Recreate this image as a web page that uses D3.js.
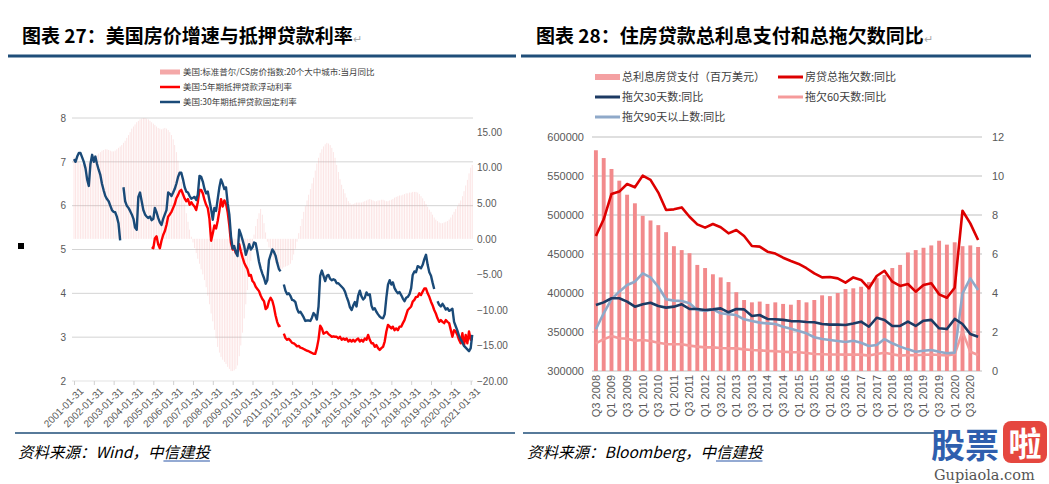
<!DOCTYPE html>
<html><head><meta charset="utf-8">
<script src="https://cdn.jsdelivr.net/npm/d3@7/dist/d3.min.js"></script>
<style>body{margin:0;background:#fff}svg{display:block}</style>
</head><body>
<svg id="c" width="1049" height="484"></svg>
<script>
// ===== Chart 27 data (monthly, month-end, starting 2001-01-31) =====
const leftXTicks = ["2001-01-31","2002-01-31","2003-01-31","2004-01-31","2005-01-31","2006-01-31","2007-01-31","2008-01-31","2009-01-31","2010-01-31","2011-01-31","2012-01-31","2013-01-31","2014-01-31","2015-01-31","2016-01-31","2017-01-31","2018-01-31","2019-01-31","2020-01-31","2021-01-31"];
const leftTicksL = [2,3,4,5,6,7,8];
const leftTicksR = [-20,-15,-10,-5,0,5,10,15];
// 美国:标准普尔/CS房价指数:20个大中城市:当月同比 (%), from 2001-01
const csYoY = [
 11.5,11.2,11.0,10.8,10.6,10.5,10.4,10.5,10.6,10.8,11.0,11.2,
 11.4,11.6,11.8,12.0,12.2,12.4,12.5,12.6,12.6,12.5,12.4,12.3,
 12.3,12.4,12.6,12.8,13.0,13.2,13.5,13.8,14.2,14.6,15.0,15.5,
 15.8,16.1,16.4,16.6,16.8,16.9,17.0,17.0,16.9,16.8,16.6,16.4,
 16.2,16.0,15.8,15.6,15.5,15.4,15.5,15.6,15.5,15.3,15.0,14.6,
 14.0,13.2,12.2,11.0,9.6,8.0,6.5,5.0,3.6,2.4,1.3,0.3,
 -0.5,-1.3,-2.0,-2.8,-3.5,-4.3,-5.0,-5.8,-6.8,-8.0,-9.2,-10.5,
 -11.6,-12.8,-14.0,-15.2,-16.0,-16.6,-17.0,-17.3,-17.6,-18.0,-18.3,-18.6,
 -18.6,-18.5,-18.3,-17.8,-16.5,-15.0,-13.2,-11.2,-9.2,-7.2,-5.2,-3.1,
 -0.8,0.6,1.8,2.8,3.6,4.2,3.4,2.2,0.9,-0.4,-1.2,-1.9,
 -2.5,-3.0,-3.4,-3.8,-4.1,-4.3,-4.2,-4.0,-3.9,-3.8,-3.7,-3.5,
 -3.0,-2.2,-1.4,-0.4,0.8,1.8,2.8,3.8,4.6,5.4,6.2,7.0,
 7.8,8.6,9.6,10.6,11.4,12.1,12.6,13.0,13.3,13.5,13.4,13.2,
 12.8,12.2,11.4,10.4,9.4,8.4,7.6,7.0,6.4,5.8,5.3,5.0,
 4.8,4.9,5.0,5.1,5.1,5.1,5.1,5.2,5.3,5.4,5.5,5.6,
 5.5,5.4,5.3,5.3,5.4,5.4,5.5,5.5,5.4,5.3,5.3,5.4,
 5.5,5.6,5.8,5.9,6.0,6.1,6.1,6.2,6.3,6.4,6.4,6.5,
 6.5,6.6,6.6,6.6,6.5,6.3,6.0,5.7,5.3,4.9,4.5,4.1,
 3.8,3.4,3.0,2.7,2.5,2.3,2.2,2.2,2.3,2.4,2.5,2.7,
 3.0,3.4,3.8,4.2,4.6,5.0,5.4,6.0,6.7,7.5,8.3,9.2,
 10.0,10.4];
// 美国:30年期抵押贷款固定利率 (%), from 2001-01
const fixed30 = [
 7.06,7.0,7.12,7.2,7.2,7.1,7.0,6.85,6.6,6.45,6.95,7.16,
 7.0,7.12,6.95,6.82,6.7,6.5,6.35,6.22,6.15,6.1,6.0,5.9,
 5.86,5.85,5.75,5.6,5.21,null,6.42,6.1,6.0,5.95,5.88,5.8,
 5.7,5.5,5.45,6.2,6.3,6.1,5.9,5.8,5.75,5.72,5.75,5.67,
 5.7,5.95,5.85,5.72,5.62,5.56,5.7,5.8,5.9,6.3,6.27,6.22,
 6.3,6.38,6.5,6.65,6.75,6.75,6.6,6.42,6.32,6.3,6.22,6.16,
 6.18,6.2,6.13,6.25,6.68,6.66,6.55,6.38,6.28,6.32,6.12,5.92,
 5.68,5.95,5.88,6.15,6.42,6.6,6.5,6.38,6.42,6.05,5.8,5.3,
 5.02,5.08,4.93,4.85,5.45,5.35,5.22,5.08,4.88,5.0,5.12,5.0,
 5.05,5.16,5.14,4.95,4.72,4.57,4.45,4.35,4.22,4.3,4.75,4.88,
 5.0,4.95,4.86,4.7,4.56,4.5,null,4.2,4.06,3.98,4.0,3.94,
 3.85,3.84,3.8,3.65,3.56,3.58,3.52,3.45,3.37,3.38,3.38,3.37,
 3.45,3.55,3.5,3.4,3.7,4.4,4.52,4.4,4.28,4.4,4.42,4.33,
 4.3,4.32,4.3,4.23,4.23,4.19,4.15,4.11,4.04,3.92,3.82,3.68,
 3.62,3.72,3.8,3.7,3.95,4.06,3.93,3.86,3.9,4.02,3.96,3.98,
 3.72,3.63,3.66,3.58,3.52,3.47,3.44,3.43,3.52,3.9,4.2,4.3,
 4.2,4.25,4.12,4.05,4.0,4.03,3.96,3.88,3.82,3.9,3.92,3.98,
 4.12,4.42,4.5,4.48,4.62,4.6,4.57,4.65,4.78,4.88,4.65,4.48,
 4.4,4.25,4.1,null,3.82,3.74,3.7,3.76,3.7,3.63,3.66,3.6,
 3.62,3.65,3.35,3.25,3.15,3.03,2.95,2.88,2.8,2.76,2.72,2.68,
 2.75,3.05];
// 美国:5年期抵押贷款浮动利率 (%), from 2004-12 (month index 47)
const arm5StartMonth = 47;
const arm5 = [
 5.05,
 5.03,5.25,5.3,5.12,5.03,5.2,5.33,5.42,5.56,5.75,5.8,5.86,
 5.95,6.03,6.17,6.24,6.33,6.36,6.26,6.16,6.1,6.15,6.02,6.08,
 6.02,5.98,5.9,6.08,6.36,6.36,6.28,6.13,6.02,5.94,5.7,5.2,
 5.37,5.55,5.48,5.65,5.88,6.15,5.98,6.12,6.05,5.85,5.55,5.15,
 5.0,5.03,4.92,4.95,5.12,4.96,4.82,4.7,4.62,4.55,4.4,4.42,
 4.28,4.24,4.15,4.1,4.05,3.95,3.87,3.82,3.64,3.68,3.82,3.9,
 3.83,3.7,3.5,3.35,3.25,3.27,null,3.08,2.98,2.94,2.96,2.92,
 2.87,2.86,2.83,2.79,2.8,2.76,2.75,2.73,2.71,2.69,2.68,2.66,
 2.64,2.62,2.62,2.75,2.95,3.26,3.2,3.08,3.1,3.12,3.07,3.04,
 3.01,3.02,3.01,3.01,2.97,3.01,2.94,2.97,2.94,2.97,2.9,2.94,
 2.9,2.94,2.9,2.94,2.97,2.9,2.94,2.9,2.97,2.94,3.05,2.94,
 2.86,2.86,2.78,2.82,2.75,2.71,2.75,2.78,2.9,3.13,3.28,3.24,
 3.2,3.24,3.16,3.2,3.16,3.24,3.24,3.32,3.39,3.51,3.62,3.66,
 3.7,3.81,3.85,3.92,3.92,4.0,3.96,4.04,4.11,4.11,4.0,3.92,
 3.81,3.73,3.62,3.54,3.43,3.35,3.39,3.35,3.32,3.39,3.35,3.32,
 3.16,3.01,3.16,3.13,3.05,2.94,2.86,3.09,2.82,3.05,2.86,3.13,
 2.94,2.97];

// ===== Chart 28 data (quarterly) =====
const quarters = ["Q3 2008","Q4 2008","Q1 2009","Q2 2009","Q3 2009","Q4 2009","Q1 2010","Q2 2010","Q3 2010","Q4 2010",
 "Q1 2011","Q2 2011","Q3 2011","Q4 2011","Q1 2012","Q2 2012","Q3 2012","Q4 2012","Q1 2013","Q2 2013",
 "Q3 2013","Q4 2013","Q1 2014","Q2 2014","Q3 2014","Q4 2014","Q1 2015","Q2 2015","Q3 2015","Q4 2015",
 "Q1 2016","Q2 2016","Q3 2016","Q4 2016","Q1 2017","Q2 2017","Q3 2017","Q4 2017","Q1 2018","Q2 2018",
 "Q3 2018","Q4 2018","Q1 2019","Q2 2019","Q3 2019","Q4 2019","Q1 2020","Q2 2020","Q3 2020","Q4 2020"];
const interestPaid = [583000,573000,559000,544000,526000,515000,499000,493000,487000,478000,
 460000,455000,451000,436000,432000,424000,420000,414000,401000,391000,
 388000,389000,386000,388000,386000,385000,391000,388000,391000,397000,
 396000,400000,405000,406000,408000,414000,419000,423000,432000,436000,
 452000,455000,458000,461000,467000,462000,465000,460000,461000,459000];
const delinqTotal = [6.92,7.78,9.08,9.2,9.59,9.42,10.02,9.8,9.15,8.26,
 8.29,8.39,7.91,7.52,7.35,7.54,7.37,7.06,7.23,6.92,
 6.41,6.38,6.12,6.02,5.81,5.64,5.49,5.27,5.01,4.8,
 4.82,4.75,4.53,4.8,4.67,4.24,4.87,5.14,4.58,4.36,
 4.46,4.07,4.41,4.5,3.93,3.76,4.27,8.22,7.57,6.72];
const delinq30 = [3.38,3.52,3.73,3.73,3.56,3.3,3.42,3.5,3.33,3.25,
 3.3,3.42,3.18,3.18,3.13,3.16,3.21,3.01,3.18,3.16,
 2.82,2.87,2.67,2.65,2.62,2.56,2.55,2.51,2.5,2.41,
 2.38,2.38,2.36,2.44,2.53,2.27,2.73,2.62,2.31,2.31,
 2.53,2.31,2.58,2.62,2.19,2.15,2.67,2.41,1.9,1.76];
const delinq60 = [1.42,1.63,1.79,1.68,1.66,1.55,1.59,1.54,1.45,1.38,
 1.37,1.37,1.3,1.25,1.21,1.21,1.18,1.16,1.16,1.11,
 1.08,1.06,1.03,1.01,0.99,0.97,0.96,0.92,0.87,0.86,
 0.85,0.85,0.84,0.85,0.84,0.79,0.87,0.94,0.86,0.79,
 0.82,0.81,0.83,0.85,0.82,0.8,0.86,2.02,0.99,0.82];
const delinq90 = [2.14,2.96,3.68,4.07,4.41,4.58,5.01,4.8,4.32,3.68,
 3.61,3.59,3.47,3.13,3.08,3.16,2.96,2.91,2.87,2.65,
 2.56,2.48,2.44,2.41,2.27,2.17,2.05,1.93,1.73,1.64,
 1.59,1.54,1.49,1.55,1.45,1.28,1.33,1.64,1.42,1.25,
 1.11,0.99,1.04,1.08,0.99,0.91,0.94,3.98,4.75,4.15];
const rightTicksL = [300000,350000,400000,450000,500000,550000,600000];
const rightTicksR = [0,2,4,6,8,10,12];

// ===== drawing =====
const CJK = "'Noto Sans CJK SC','Noto Sans',sans-serif";
const NUM = "'Liberation Sans',Arial,sans-serif";
const svg = d3.select("#c");
const parse = d3.timeParse("%Y-%m-%d");
const mDate = m => new Date(2001, m + 1, 0);

// headers
function header(x, x1, x2, label) {
  const t = svg.append("text").attr("x", x).attr("y", 43)
    .attr("font-family", CJK).attr("font-weight", "bold").attr("font-size", 19).attr("fill", "#000");
  t.append("tspan").text(label);
  t.append("tspan").attr("font-size", 11).attr("font-weight", "normal").attr("fill", "#aaa").text("↵");
  svg.append("line").attr("x1", x1).attr("x2", x2).attr("y1", 56).attr("y2", 56)
    .attr("stroke", "#1f4e79").attr("stroke-width", 3);
}
header(22, 8, 516, "图表 27：美国房价增速与抵押贷款利率");
header(536, 521, 1031, "图表 28：住房贷款总利息支付和总拖欠数同比");

// ---------- Left chart ----------
const xL = d3.scaleTime().domain([parse(leftXTicks[0]), parse(leftXTicks[leftXTicks.length - 1])]).range([74, 470.7]);
const yL = d3.scaleLinear().domain([2, 8]).range([381, 118]);
const yR = d3.scaleLinear().domain([-20, 17]).range([381, 118]);
const gL = svg.append("g");

gL.selectAll("line.grid").data(leftTicksL).join("line")
  .attr("x1", 72).attr("x2", 473).attr("y1", d => yL(d)).attr("y2", d => yL(d))
  .attr("stroke", d => d === 2 ? "#e3e3e3" : "#d4d4d4").attr("stroke-width", 1);

gL.selectAll("rect.cs").data(csYoY).join("rect")
  .attr("x", (d, i) => xL(mDate(i)) - 0.4).attr("width", 0.8)
  .attr("y", d => Math.min(yR(d), yR(0))).attr("height", d => Math.abs(yR(d) - yR(0)))
  .attr("fill", "#f3a0a0").attr("opacity", 0.32);

const lineL = off => d3.line().defined(d => d != null)
  .x((d, i) => xL(mDate(i + off))).y(d => yL(d));
gL.append("path").attr("d", lineL(arm5StartMonth)(arm5)).attr("fill", "none")
  .attr("stroke", "#ff0000").attr("stroke-width", 2.4).attr("stroke-linejoin", "round");
gL.append("path").attr("d", lineL(0)(fixed30)).attr("fill", "none")
  .attr("stroke", "#1a4a78").attr("stroke-width", 2.4).attr("stroke-linejoin", "round");

const axL = gL.append("g").attr("transform", "translate(72,0)")
  .call(d3.axisLeft(yL).tickValues(leftTicksL).tickSize(0).tickPadding(6).tickFormat(d3.format("d")));
const axR = gL.append("g").attr("transform", "translate(473,0)")
  .call(d3.axisRight(yR).tickValues(leftTicksR).tickSize(0).tickPadding(4).tickFormat(d3.format(".2f")));
const axB = gL.append("g").attr("transform", "translate(0,381)")
  .call(d3.axisBottom(xL).tickValues(leftXTicks.map(parse)).tickSize(4).tickFormat(d3.timeFormat("%Y-%m-%d")));
[axL, axR, axB].forEach(a => {
  a.select(".domain").remove();
  a.selectAll("text").attr("font-family", NUM).attr("font-size", 10).attr("fill", "#595959");
  a.selectAll(".tick line").attr("stroke", "#d0d0d0");
});
axB.selectAll("text").attr("text-anchor", "end").attr("dy", "0.35em")
  .attr("transform", "translate(3,4) rotate(-45)").attr("y", 6).attr("x", 0);

// left legend
const legL = svg.append("g").attr("font-family", CJK).attr("font-size", 8.5).attr("fill", "#404040");
legL.append("rect").attr("x", 160).attr("y", 69.5).attr("width", 20).attr("height", 5).attr("fill", "#f4a8a8");
legL.append("line").attr("x1", 160).attr("x2", 180).attr("y1", 87).attr("y2", 87).attr("stroke", "#ff0000").attr("stroke-width", 2.5);
legL.append("line").attr("x1", 160).attr("x2", 180).attr("y1", 102).attr("y2", 102).attr("stroke", "#1a4a78").attr("stroke-width", 2.5);
legL.append("text").attr("x", 183).attr("y", 75).text("美国:标准普尔/CS房价指数:20个大中城市:当月同比");
legL.append("text").attr("x", 183).attr("y", 90).text("美国:5年期抵押贷款浮动利率");
legL.append("text").attr("x", 183).attr("y", 105).text("美国:30年期抵押贷款固定利率");

svg.append("rect").attr("x", 18).attr("y", 243).attr("width", 6).attr("height", 6).attr("fill", "#000");

// ---------- Right chart ----------
const xB = d3.scaleBand().domain(quarters).range([592, 982]).paddingInner(0.5).paddingOuter(0.25);
const yB = d3.scaleLinear().domain([300000, 600000]).range([371, 137]);
const yT = d3.scaleLinear().domain([0, 12]).range([371, 137]);
const gR = svg.append("g");
gR.selectAll("line.grid").data(rightTicksL).join("line")
  .attr("x1", 592).attr("x2", 982).attr("y1", d => yB(d)).attr("y2", d => yB(d))
  .attr("stroke", "#bfbfbf").attr("stroke-width", 1);
gR.selectAll("rect.bar").data(interestPaid).join("rect")
  .attr("x", (d, i) => xB(quarters[i])).attr("width", xB.bandwidth())
  .attr("y", d => yB(d)).attr("height", d => yB(300000) - yB(d))
  .attr("fill", "#f28a8c");
const cx = (d, i) => xB(quarters[i]) + xB.bandwidth() / 2;
const lineR = d3.line().x(cx).y(d => yT(d));
[[delinq60, "#f59a9a"], [delinq90, "#8fa9c9"], [delinq30, "#1c3a63"], [delinqTotal, "#dd0000"]].forEach(([s, c]) => {
  gR.append("path").attr("d", lineR(s)).attr("fill", "none").attr("stroke", c)
    .attr("stroke-width", 2.6).attr("stroke-linejoin", "round");
});
const rL = gR.append("g").attr("transform", "translate(592,0)")
  .call(d3.axisLeft(yB).tickValues(rightTicksL).tickSize(0).tickPadding(8).tickFormat(d3.format("d")));
const rR = gR.append("g").attr("transform", "translate(982,0)")
  .call(d3.axisRight(yT).tickValues(rightTicksR).tickSize(0).tickPadding(10));
const rB = gR.append("g").attr("transform", "translate(0,371)")
  .call(d3.axisBottom(xB).tickValues(quarters.filter((q, i) => i % 2 === 0)).tickSize(0));
[rL, rR, rB].forEach(a => {
  a.select(".domain").remove();
  a.selectAll("text").attr("font-family", NUM).attr("font-size", 11).attr("fill", "#595959");
});
rB.selectAll("text").attr("text-anchor", "end").attr("transform", "rotate(-90)")
  .attr("x", -4).attr("y", 0).attr("dy", "0.35em");

// right legend
const legR = svg.append("g").attr("font-family", CJK).attr("font-size", 11).attr("fill", "#404040");
const legItems = [
  {x: 595, y: 77, t: "总利息房贷支付（百万美元）", c: "#f4a0a2", w: 6},
  {x: 778, y: 77, t: "房贷总拖欠数:同比", c: "#dd0000", w: 3},
  {x: 595, y: 97, t: "拖欠30天数:同比", c: "#1c3a63", w: 3},
  {x: 778, y: 97, t: "拖欠60天数:同比", c: "#f59a9a", w: 3},
  {x: 595, y: 117, t: "拖欠90天以上数:同比", c: "#8fa9c9", w: 3}];
legItems.forEach(d => {
  legR.append("line").attr("x1", d.x).attr("x2", d.x + 25).attr("y1", d.y).attr("y2", d.y)
    .attr("stroke", d.c).attr("stroke-width", d.w);
  legR.append("text").attr("x", d.x + 27).attr("y", d.y + 4).text(d.t);
});

// ---------- footers ----------
function footer(x, x1, x2, pre) {
  svg.append("line").attr("x1", x1).attr("x2", x2).attr("y1", 433).attr("y2", 433)
    .attr("stroke", "#1f4e79").attr("stroke-width", 1.5);
  const t1 = svg.append("text").attr("x", x).attr("y", 458).attr("font-family", CJK)
    .attr("font-size", 15.5).attr("font-style", "italic").attr("fill", "#000").text(pre);
  const w1 = t1.node().getComputedTextLength();
  const t2 = svg.append("text").attr("x", x + w1).attr("y", 458).attr("font-family", CJK)
    .attr("font-size", 15.5).attr("font-style", "italic").attr("fill", "#000").text("信建投");
  const w2 = t2.node().getComputedTextLength();
  svg.append("line").attr("x1", x + w1).attr("x2", x + w1 + w2).attr("y1", 461).attr("y2", 461)
    .attr("stroke", "#2b57a8").attr("stroke-width", 1.2);
}
footer(18, 15, 515, "资料来源：Wind，中");
footer(527, 523, 935, "资料来源：Bloomberg，中");

// watermark
svg.append("text").attr("x", 931).attr("y", 458).attr("font-family", CJK).attr("font-weight", "bold")
  .attr("font-size", 34).attr("fill", "#2f5fae").text("股票");
svg.append("rect").attr("x", 1003).attr("y", 421).attr("width", 44).attr("height", 42).attr("rx", 8).attr("fill", "#e5473f");
svg.append("text").attr("x", 1025).attr("y", 456).attr("text-anchor", "middle").attr("font-family", CJK)
  .attr("font-weight", "bold").attr("font-size", 33).attr("fill", "#fff").text("啦");
svg.append("text").attr("x", 934).attr("y", 480).attr("font-family", "'DejaVu Serif',serif")
  .attr("font-size", 14.5).attr("fill", "#555").text("Gupiaola.com");
</script>
</body></html>
